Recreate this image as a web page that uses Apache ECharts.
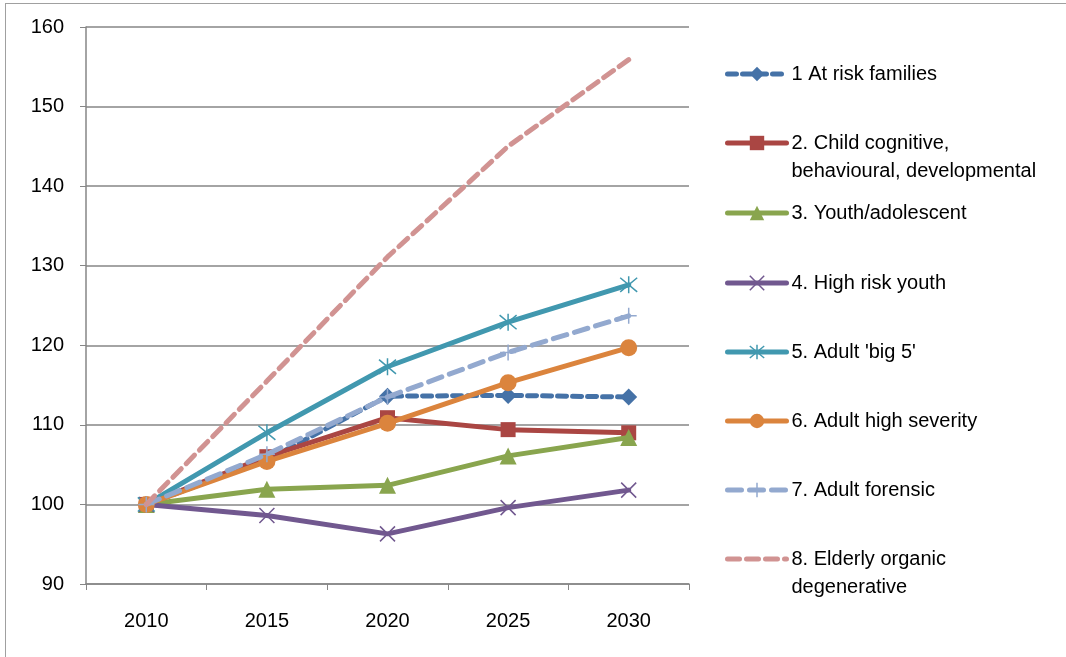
<!DOCTYPE html>
<html><head><meta charset="utf-8">
<script src="https://cdn.jsdelivr.net/npm/echarts@6/dist/echarts.min.js"></script>
<style>
html,body{margin:0;padding:0;background:#fff;}
#frame{position:absolute;left:5px;top:3px;width:1070px;height:660px;border:1px solid #a0a0a0;box-sizing:border-box;}
#c{position:absolute;left:0;top:0;width:1066px;height:657px;}
</style></head>
<body><div id="frame"></div><div id="c"></div>
<script>
var years = ['2010','2015','2020','2025','2030'];
var yTicks = {min: 90, max: 160, interval: 10};
var seriesNames = ['1 At risk families','2. Child cognitive, behavioural, developmental','3. Youth/adolescent','4. High risk youth',"5. Adult 'big 5'",'6. Adult high severity','7. Adult forensic','8. Elderly organic degenerative'];
var legendLines = [['1 At risk families'],['2. Child cognitive,','behavioural, developmental'],['3. Youth/adolescent'],['4. High risk youth'],["5. Adult 'big 5'"],['6. Adult high severity'],['7. Adult forensic'],['8. Elderly organic','degenerative']];
var atRiskFamilies = [100, 105.6, 113.6, 113.7, 113.5];
var childCognitive = [100, 106.0, 110.9, 109.4, 109.0];
var youthAdolescent = [100, 101.9, 102.4, 106.1, 108.4];
var highRiskYouth = [100, 98.6, 96.3, 99.6, 101.8];
var adultBig5 = [100, 109.0, 117.3, 122.9, 127.6];
var adultHighSeverity = [100, 105.4, 110.2, 115.3, 119.7];
var adultForensic = [100, 106.3, 113.5, 119.1, 123.7];
var elderlyOrganic = [100, 115.5, 131.1, 145.0, 155.9];
var allData = [atRiskFamilies, childCognitive, youthAdolescent, highRiskYouth, adultBig5, adultHighSeverity, adultForensic, elderlyOrganic];

var colors = ['#4572A7','#AA4643','#89A54E','#71588F','#4198AF','#DB843D','#93A9CF','#D19392'];
var symbols = ['diamond','rect','triangle','path://M0,0 L10,10 M10,0 L0,10','path://M0,0 L10,10 M10,0 L0,10 M5,-1 L5,11','circle','path://M5,0 L5,10 M0,5 L10,5','none'];
var symbolSizes = [17,15,17,15,17,17,16,1];
var strokeSym = [false,false,false,true,true,false,true,false];
var dashes = [[9,6],'solid','solid','solid','solid','solid',[14,8],[12,7]];
var legendCenters = [74,143,213,283,352,421,490,559];

var font = 'Liberation Sans';
var series = [], legends = [];
for (var i = 0; i < 8; i++) {
  var two = legendLines[i].length > 1;
  series.push({
    name: seriesNames[i], type: 'line', data: allData[i],
    symbol: symbols[i], symbolSize: symbolSizes[i], showSymbol: symbols[i] !== 'none',
    lineStyle: {color: colors[i], width: 5, type: dashes[i], cap: 'round'},
    itemStyle: strokeSym[i] ? {color: 'rgba(0,0,0,0)', borderColor: colors[i], borderWidth: 1.5} : {color: colors[i], borderWidth: 0},
    emphasis: {disabled: true}, animation: false, z: 2 + i
  });
  var legItemStyle = strokeSym[i] ? {color: 'rgba(0,0,0,0)', borderColor: colors[i], borderWidth: 1.5} : (symbols[i] === 'none' ? {opacity: 0} : {});
  legends.push({
    data: [{name: seriesNames[i], itemStyle: legItemStyle}], left: 725, padding: 0,
    top: two ? legendCenters[i] - 42 : legendCenters[i] - 12,
    itemWidth: 59, itemHeight: 18, orient: 'vertical', selectedMode: false,
    formatter: (function (idx) { return function () { var l = legendLines[idx]; return l.length > 1 ? ' \n' + l.join('\n') : l[0]; }; })(i),
    textStyle: two ? {fontFamily: font, fontSize: 20, color: '#000', lineHeight: 28} : {fontFamily: font, fontSize: 20, color: '#000', lineHeight: 24},
    lineStyle: {width: 5}
  });
}

var chart = echarts.init(document.getElementById('c'));
chart.setOption({
  backgroundColor: 'transparent',
  animation: false,
  grid: {left: 86, right: 377, top: 27, bottom: 73, containLabel: false},
  xAxis: {type: 'category', data: years, boundaryGap: true,
    axisLine: {lineStyle: {color: '#868686', width: 1.5}},
    axisTick: {show: true, length: 6, lineStyle: {color: '#868686'}},
    axisLabel: {fontFamily: font, fontSize: 20, color: '#000', margin: 27},
    splitLine: {show: false}},
  yAxis: {type: 'value', min: yTicks.min, max: yTicks.max, interval: yTicks.interval,
    axisLine: {show: true, lineStyle: {color: '#868686', width: 1.5}},
    axisTick: {show: true, length: 6, lineStyle: {color: '#868686'}},
    axisLabel: {fontFamily: font, fontSize: 20, color: '#000', margin: 22},
    splitLine: {show: true, lineStyle: {color: '#868686', width: 1.5}}},
  legend: legends,
  series: series
});
</script></body></html>
